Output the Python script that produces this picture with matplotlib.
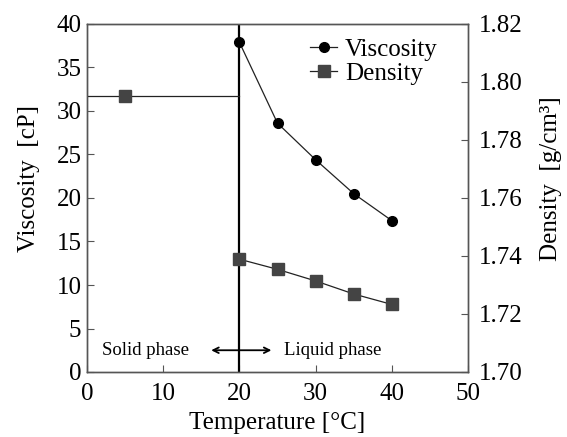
import matplotlib
matplotlib.use("Agg")
import matplotlib.pyplot as plt
from matplotlib.lines import Line2D

plt.rcParams['font.family'] = ['Liberation Serif', 'DejaVu Serif']

temp_liquid = [20, 25, 30, 35, 40]
viscosity = [37.9, 28.6, 24.4, 20.5, 17.4]
density_liquid = [1.7389, 1.7354, 1.7314, 1.7269, 1.7233]
temp_solid = [5]
density_solid = [1.7953]
melting_point = 20

x_ticks = [0, 10, 20, 30, 40, 50]
y_ticks = [0, 5, 10, 15, 20, 25, 30, 35, 40]
y2_ticks = [1.70, 1.72, 1.74, 1.76, 1.78, 1.80, 1.82]

fig = plt.figure(figsize=(5.67, 4.37), dpi=100)
ax = fig.add_axes([87/567, 1 - 372/437, (468-87)/567, (372-24)/437])
ax2 = ax.twinx()

fs = 18
ax.set_xlim(0, 50)
ax.set_ylim(0, 40)
ax2.set_ylim(1.70, 1.82)
ax.set_xticks(x_ticks)
ax.set_yticks(y_ticks)
ax2.set_yticks(y2_ticks)
ax2.set_yticklabels([f"{v:.2f}" for v in y2_ticks])

for a in (ax, ax2):
    for s in a.spines.values():
        s.set_color('#555555')
        s.set_linewidth(1.0)
ax.tick_params(axis='y', direction='in', labelsize=fs, length=5, color='#555555', pad=4)
ax.tick_params(axis='x', direction='in', labelsize=fs, length=5, color='#555555', pad=8)
ax2.tick_params(direction='in', labelsize=fs, length=5, color='#555555', pad=8)

# vertical line at melting point
ax.axvline(melting_point, color='black', linewidth=1.6)

# solid density horizontal line
ax2.plot([0, melting_point], [density_solid[0], density_solid[0]], color='#222222', linewidth=0.9)
ax2.plot(temp_solid, density_solid, 's', color='#444444', markersize=8)

ax.plot(temp_liquid, viscosity, '-', color='#222222', linewidth=0.9)
ax.plot(temp_liquid, viscosity, 'o', color='black', markersize=7)
ax2.plot(temp_liquid, density_liquid, '-', color='#222222', linewidth=0.9)
ax2.plot(temp_liquid, density_liquid, 's', color='#444444', markersize=8)

ax.set_xlabel('Temperature [°C]', fontsize=fs, labelpad=5)
ax.set_ylabel('Viscosity  [cP]', fontsize=fs, labelpad=12)
ax2.set_ylabel('Density  [g/cm³]', fontsize=fs, labelpad=12)
ax.yaxis.label.set_y(0.555)
ax2.yaxis.label.set_y(0.555)

# phase annotation
ax.annotate('', xy=(16.3, 2.5), xytext=(24.2, 2.5),
            arrowprops=dict(arrowstyle='<->', color='black', lw=1.3,
                            shrinkA=0, shrinkB=0))
ax.text(2.0, 2.5, 'Solid phase', fontsize=13.5, va='center', ha='left')
ax.text(25.8, 2.5, 'Liquid phase', fontsize=13.5, va='center', ha='left')

handles = [Line2D([], [], color='#222222', marker='o', markerfacecolor='black',
                  markeredgecolor='black', markersize=7, linewidth=0.9),
           Line2D([], [], color='#222222', marker='s', markerfacecolor='#444444',
                  markeredgecolor='#444444', markersize=8, linewidth=0.9)]
ax.legend(handles, ['Viscosity', 'Density'], loc='upper left', frameon=False,
          fontsize=fs, handlelength=1.1, handletextpad=0.3, labelspacing=0.05,
          borderpad=0, borderaxespad=0, bbox_to_anchor=(0.585, 0.958))

fig.savefig('out.png', dpi=100)
